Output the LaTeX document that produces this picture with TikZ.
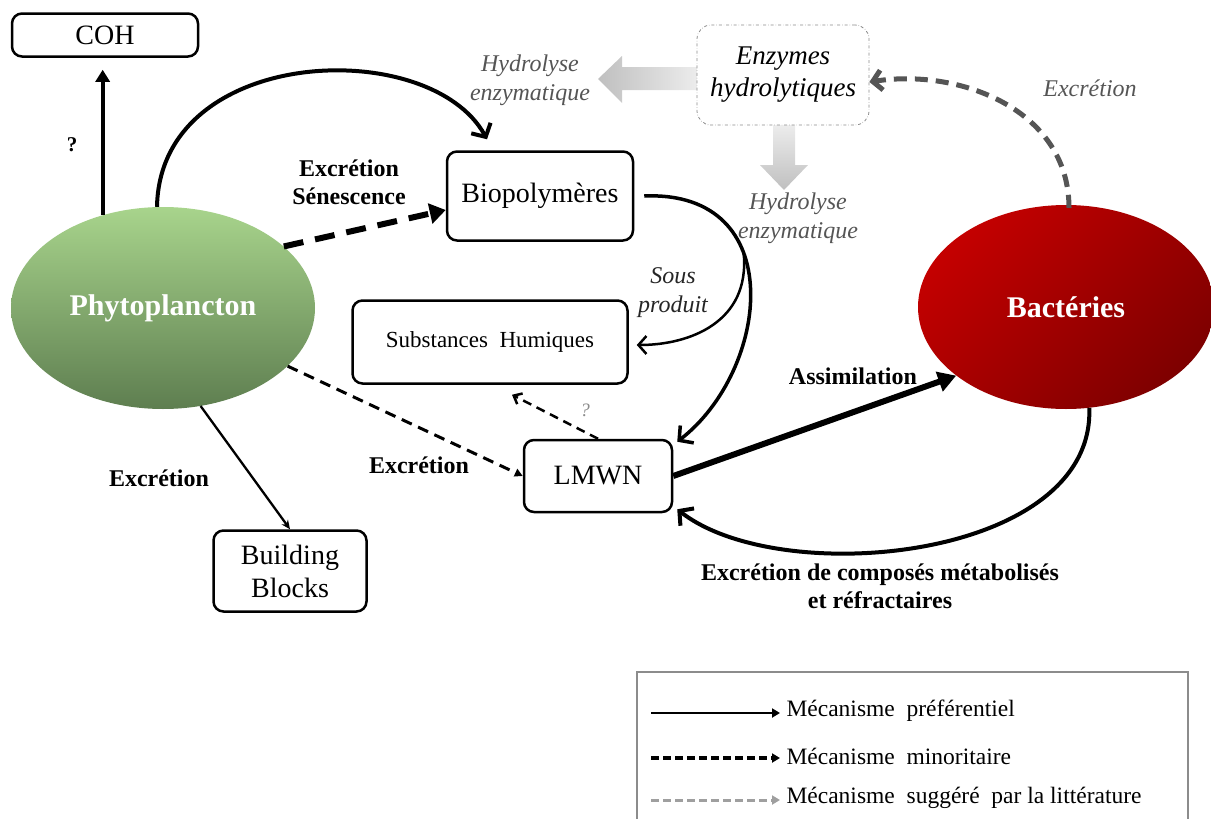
\documentclass[tikz,border=0pt]{standalone}
\usepackage{fontspec}
\setmainfont{Liberation Serif}
\usetikzlibrary{arrows.meta,shapes.geometric,calc}
\definecolor{grn1}{HTML}{A8D48C}
\definecolor{grn2}{HTML}{5E7E50}
\definecolor{red1}{HTML}{C40000}
\definecolor{red2}{HTML}{7E0000}
\definecolor{dgray}{HTML}{555555}
\definecolor{lgray}{HTML}{8C8C8C}
\tikzset{
  box/.style={draw, line width=2.5pt, rounded corners=10pt, inner sep=0pt, align=center, font=\fontsize{28}{32}\selectfont},
  blob/.style={ellipse, inner sep=0pt, text=white, font=\fontsize{30}{34}\selectfont\bfseries},
  blab/.style={font=\fontsize{24}{28}\selectfont\bfseries, align=center},
  ilab/.style={font=\fontsize{24}{29}\selectfont\itshape, align=center, text=dgray},
  openhead/.style={-{Straight Barb[length=10pt,width=22pt]}},
  fillhead/.style={-{Triangle[length=12pt,width=14pt]}},
  leg/.style={font=\fontsize{23.5}{27}\selectfont, anchor=west},
}
\begin{document}
\begin{tikzpicture}[x=1pt,y=-1pt]
\useasboundingbox (0,0) rectangle (1211,819);

% nodes
\node[box, minimum width=186pt, minimum height=43pt] (coh) at (105,35) {COH};
\node[box, minimum width=186pt, minimum height=89pt] (bio) at (540,196) {Biopolymères};
\node[box, font=\fontsize{23}{27}\selectfont, minimum width=275pt, minimum height=83pt] (sh) at (490,342) {Substances~ Humiques};
\node[box, minimum width=148pt, minimum height=72pt] (lmwn) at (598,476) {LMWN};
\node[box, minimum width=153pt, minimum height=81pt, font=\fontsize{28}{33}\selectfont] (bb) at (290,571) {Building\\Blocks};

\node[blob, minimum width=304pt, minimum height=202pt, top color=grn1, bottom color=grn2] (phy) at (163,308) {Phytoplancton};
\node[blob, minimum width=296pt, minimum height=204pt, top color=red1, bottom color=red2, shading angle=45] (bac) at (1066,307) {Bactéries};

% gray hydrolysis arrows
\path[left color=gray!50, right color=gray!12, shading angle=90]
  (705,67) -- (622,67) -- (622,56) -- (598,79) -- (622,103) -- (622,90) -- (705,90) -- cycle;
\path[top color=gray!12, bottom color=gray!50]
  (773,120) -- (795,120) -- (795,165) -- (808,165) -- (784,190) -- (760,165) -- (773,165) -- cycle;

\node[draw=lgray, dash dot, line width=0.8pt, rounded corners=14pt, minimum width=172pt, minimum height=100pt, fill=white, align=center, font=\fontsize{27}{32}\selectfont\itshape] (enz) at (783,75) {Enzymes\\hydrolytiques};

% connectors
\draw[line width=4pt, fillhead] (phy.123) -- ($(coh.south -| phy.123)+(0,12)$);
\draw[line width=4pt, openhead] ([xshift=-6pt]phy.north) .. controls (160,45) and (430,35) .. ([xshift=-53pt,yshift=11pt]bio.north);
\draw[line width=6pt, dash pattern=on 20pt off 12pt, -{Triangle[length=16pt,width=20pt]}] (phy.27) -- ([yshift=-14pt]bio.west);
\draw[line width=3.5pt, openhead] ([xshift=10pt]bio.east) .. controls (790,190) and (770,370) .. coordinate[pos=0.38] (split) ([xshift=4pt,yshift=-3pt]lmwn.north east);
\draw[line width=2.5pt, -{Straight Barb[length=8pt,width=18pt]}] (split) .. controls (750,322) and (690,345) .. ([xshift=8pt,yshift=-3pt]sh.east);
\draw[line width=2.5pt, dash pattern=on 9pt off 6pt, -{Straight Barb[length=7pt,width=12pt]}] (lmwn.north) -- ([xshift=22pt,yshift=-10pt]sh.south);
\draw[line width=3pt, dash pattern=on 11pt off 7pt, -{Triangle[length=8pt,width=8pt]}] (phy.335.5) -- (lmwn.west);
\draw[line width=2.3pt, -{Stealth[length=9pt,width=8pt]}] (phy.291) -- (bb.north);
\draw[line width=6pt, -{Triangle[length=18pt,width=20pt]}] (lmwn.east) -- (bac.212.6);
\draw[line width=4pt, openhead] (bac.283) .. controls (1095,560) and (780,590) .. ([xshift=4pt,yshift=4pt]lmwn.south east);
\draw[dgray, line width=5pt, dash pattern=on 13pt off 8pt, -{Straight Barb[length=9pt,width=20pt]}] ([xshift=3pt,yshift=-3pt]bac.north) .. controls (1069,110) and (960,68) .. ([yshift=-7pt]enz.east);

% labels
\node[blab, font=\fontsize{21}{24}\selectfont\bfseries] (q1) at (72,145) {?};
\node[blab] (l1) at (349,182) {Excrétion\\Sénescence};
\node[blab] (l2) at (159,478) {Excrétion};
\node[blab] (l3) at (419,465) {Excrétion};
\node[blab] (l4) at (853,376) {Assimilation};
\node[blab] (l5) at (880,586) {Excrétion de composés métabolisés\\et réfractaires};
\node[ilab, text=black!85] (l6) at (673,293) {Sous\\produit};
\node[ilab, font=\fontsize{19}{21}\selectfont\itshape, text=lgray] (q2) at (585,410) {?};
\node[ilab] (h1) at (530,80) {Hydrolyse\\enzymatique};
\node[ilab] (h2) at (798,218) {Hydrolyse\\enzymatique};
\node[ilab] (ex) at (1090,88) {Excrétion};

% legend
\draw[lgray, line width=1.2pt] (637,822) -- (637,672) -- (1188,672) -- (1188,822);
\coordinate (a1) at (651,713); \coordinate (b1) at (780,713);
\coordinate (a2) at (651,758); \coordinate (b2) at (780,758);
\coordinate (a3) at (651,800); \coordinate (b3) at (780,800);
\draw[line width=2.8pt, -{Triangle[length=8pt,width=9pt]}] (a1) -- (b1);
\draw[line width=3.5pt, dash pattern=on 8pt off 4pt, -{Triangle[length=8pt,width=9pt]}] (a2) -- (b2);
\draw[gray!75, line width=3pt, dash pattern=on 8pt off 4pt, -{Triangle[length=8pt,width=9pt]}] (a3) -- (b3);
\node[leg] (t1) at (783,711) {Mécanisme~ préférentiel};
\node[leg] (t2) at (783,756) {Mécanisme~ minoritaire};
\node[leg] (t3) at (783,798) {Mécanisme~ suggéré~ par la littérature};
\end{tikzpicture}
\end{document}
